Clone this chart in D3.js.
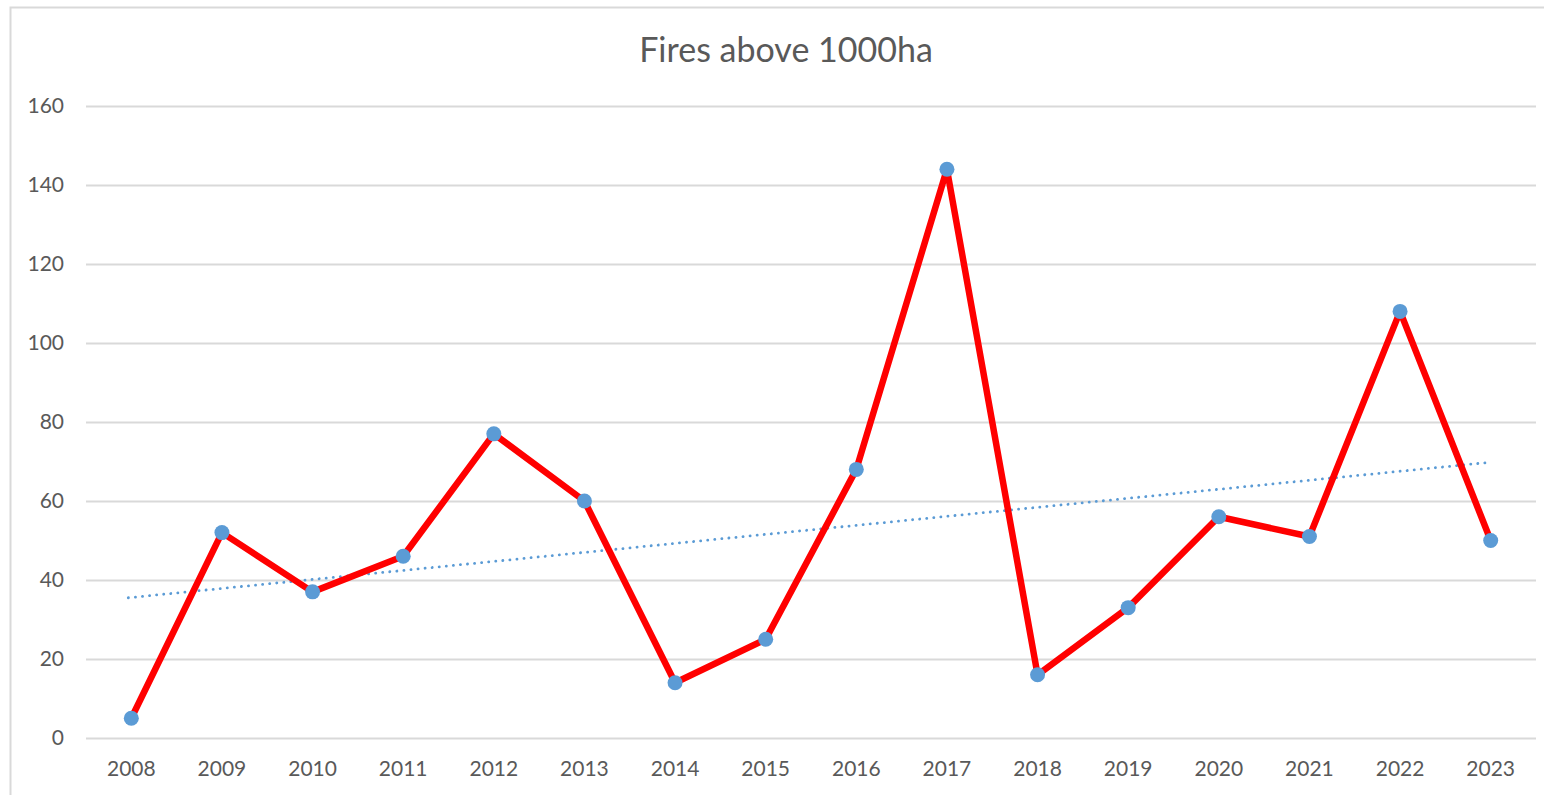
<!DOCTYPE html>
<html>
<head>
<meta charset="utf-8">
<script src="https://cdn.jsdelivr.net/npm/d3@7"></script>
<style>
  body { margin: 0; background: #fff; }
  text { font-family: Lato, "Open Sans", sans-serif; fill: #595959; }
</style>
</head>
<body>
<div id="chart"></div>
<script>
const years = ["2008", "2009", "2010", "2011", "2012", "2013", "2014", "2015",
  "2016", "2017", "2018", "2019", "2020", "2021", "2022", "2023"];
const fires = [5, 52, 37, 46, 77, 60, 14, 25, 68, 144, 16, 33, 56, 51, 108, 50];
const yTicks = [0, 20, 40, 60, 80, 100, 120, 140, 160];

const width = 1544, height = 795;
const margin = { top: 106, right: 8, bottom: 57, left: 86 };

const svg = d3.select("#chart")
  .append("svg")
  .attr("width", width)
  .attr("height", height);

// chart border
svg.append("rect")
  .attr("x", 10.5).attr("y", 7.5)
  .attr("width", width + 20).attr("height", height + 20)
  .attr("fill", "none")
  .attr("stroke", "#d9d9d9")
  .attr("stroke-width", 2);

const x = d3.scaleBand()
  .domain(years)
  .range([margin.left, width - margin.right]);

const y = d3.scaleLinear()
  .domain([0, 160])
  .range([height - margin.bottom, margin.top]);

const cx = d => x(d) + x.bandwidth() / 2;

// gridlines + y labels
const yAxis = svg.append("g")
  .attr("transform", `translate(${margin.left}, 0)`)
  .call(d3.axisLeft(y).tickValues(yTicks)
    .tickSize(-(width - margin.right - margin.left))
    .tickPadding(22));
yAxis.select(".domain").remove();
yAxis.selectAll(".tick line").attr("stroke", "#d9d9d9").attr("stroke-width", 2);
yAxis.selectAll(".tick text").style("font-size", "21px");

// x labels
const xAxis = svg.append("g")
  .attr("transform", `translate(0, ${height - margin.bottom})`)
  .call(d3.axisBottom(x).tickSize(0).tickPadding(23));
xAxis.select(".domain").remove();
xAxis.selectAll(".tick text").style("font-size", "21px");

// title
svg.append("text")
  .attr("x", 786)
  .attr("y", 62)
  .attr("text-anchor", "middle")
  .style("font-size", "34px")
  .text("Fires above 1000ha");

// linear trend (least squares on the data)
const idx = years.map((d, i) => i);
const mx = d3.mean(idx), my = d3.mean(fires);
const slope = d3.sum(idx, i => (i - mx) * (fires[i] - my)) / d3.sum(idx, i => (i - mx) ** 2);
const icpt = my - slope * mx;
const trend = [0, years.length - 1].map(i => [cx(years[i]) - 3, y(icpt + slope * i)]);

svg.append("path")
  .attr("d", d3.line()(trend))
  .attr("fill", "none")
  .attr("stroke", "#5b9bd5")
  .attr("stroke-width", 2.8)
  .attr("stroke-linecap", "round")
  .attr("stroke-dasharray", "0.1 7");

// data line
const line = d3.line()
  .x((d, i) => cx(years[i]))
  .y(d => y(d));

svg.append("path")
  .datum(fires)
  .attr("d", line)
  .attr("fill", "none")
  .attr("stroke", "#ff0000")
  .attr("stroke-width", 6.5)
  .attr("stroke-linejoin", "round");

svg.selectAll(".dot")
  .data(fires)
  .join("circle")
  .attr("class", "dot")
  .attr("cx", (d, i) => cx(years[i]))
  .attr("cy", d => y(d))
  .attr("r", 7.5)
  .attr("fill", "#5b9bd5");
</script>
</body>
</html>
